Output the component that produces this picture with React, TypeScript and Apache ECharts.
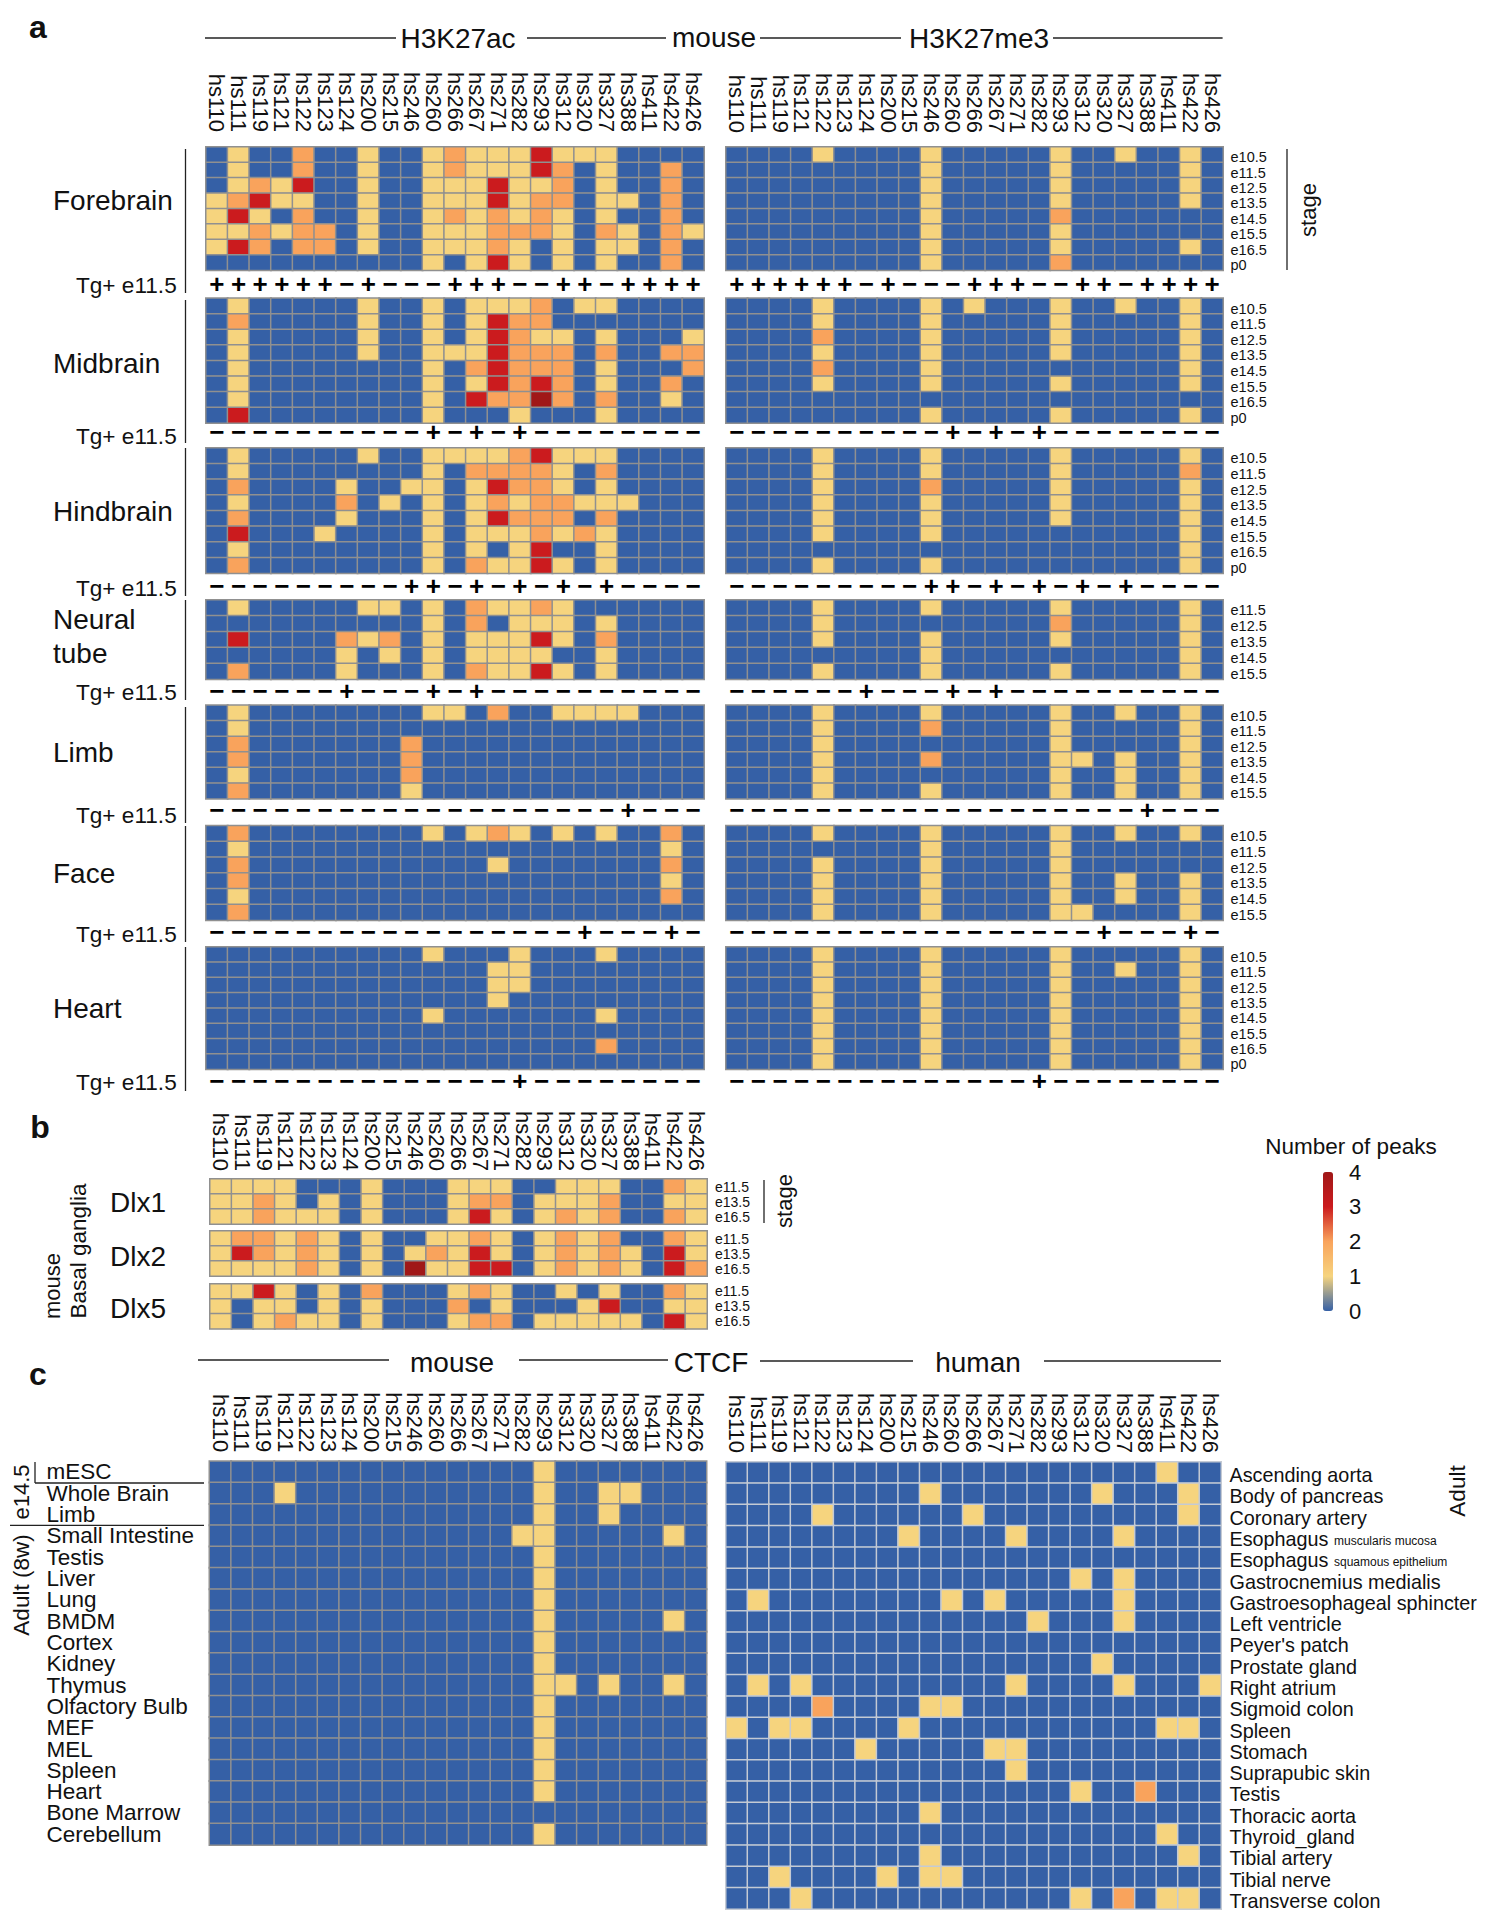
import React, { useEffect, useRef } from "react";
import * as echarts from "echarts";

const hsLabels = ["hs110","hs111","hs119","hs121","hs122","hs123","hs124","hs200","hs215","hs246","hs260","hs266","hs267","hs271","hs282","hs293","hs312","hs320","hs327","hs388","hs411","hs422","hs426"];
const stages8 = ["e10.5","e11.5","e12.5","e13.5","e14.5","e15.5","e16.5","p0"];
const stages6 = ["e10.5","e11.5","e12.5","e13.5","e14.5","e15.5"];
const stages5 = ["e11.5","e12.5","e13.5","e14.5","e15.5"];
const stagesBG = ["e11.5","e13.5","e16.5"];

const forebrainAc = ["0100200100 1211131110 000","0100200100 1211132010 020","0121300100 1113112010 020","1231100100 1113122011 020","1310200100 1212121010 020","1121220100 1112221021 021","1320220100 1112101011 020","0000000000 1013101010 020"];
const midbrainAc = ["0100000100 1011120110 000","0200000100 1013220000 000","0100000100 1013211010 001","0100000100 1113222020 022","0100000000 1023222010 002","0100000000 1013232010 020","0100000000 1032242020 010","0300000000 1000100010 000"];
const hindbrainAc = ["0100000100 1111231110 000","0100000000 1022221020 000","0200001001 1013221010 000","0100002010 1012122111 000","0200001000 1013222020 000","0300010000 1011121210 000","0100000000 1010130010 000","0200000000 1021131010 000"];
const neuralAc = ["0100000110 1021121000 000","0000000000 1020111010 000","0300002120 1011131020 000","0000001010 1011110010 000","0200001000 1021131010 000"];
const limbAc = ["0100000000 1102001111 000","0100000000 0000000000 000","0200000002 0000000000 000","0200000002 0000000000 000","0100000002 0000000000 000","0200000001 0000000000 000"];
const faceAc = ["0200000000 1012101010 020","0100000000 0000000000 010","0200000000 0001000000 020","0200000000 0000000000 010","0100000000 0000000000 020","0200000000 0000000000 000"];
const heartAc = ["0000000000 1000100010 000","0000000000 0001100000 000","0000000000 0001100000 000","0000000000 0001000000 000","0000000000 1000000010 000","0000000000 0000000000 000","0000000000 0000000020 000","0000000000 0000000000 000"];

const forebrainMe = ["0000100001 0000010010 010","0000000001 0000010000 010","0000000001 0000010000 010","0000000001 0000010000 010","0000000001 0000020000 000","0000000001 0000010000 000","0000000001 0000010000 010","0000000001 0000020000 000"];
const midbrainMe = ["0000100001 0100010010 010","0000100001 0000010000 010","0000200001 0000010000 010","0000100001 0000010000 010","0000200001 0000000000 010","0000100001 0000010000 010","0000000000 0000000000 000","0000000001 0000010000 010"];
const hindbrainMe = ["0000100001 0000010000 010","0000100001 0000010000 020","0000100002 0000010000 010","0000100001 0000010000 010","0000100001 0000010000 010","0000100001 0000000000 010","0000000000 0000000000 010","0000100001 0000000000 010"];
const neuralMe = ["0000100001 0000010000 010","0000100000 0000020000 010","0000100001 0000010000 010","0000000001 0000000000 010","0000100001 0000010000 010"];
const limbMe = ["0000100001 0000010010 010","0000100002 0000010000 010","0000100000 0000010000 010","0000100002 0000011010 010","0000100000 0000010010 010","0000100001 0000010010 010"];
const faceMe = ["0000100001 0000010010 010","0000000001 0000010000 000","0000100001 0000010000 000","0000100001 0000010010 010","0000100001 0000010010 010","0000100001 0000011000 010"];
const heartMe = ["0000100001 0000010000 010","0000100001 0000010010 010","0000100001 0000010000 010","0000100001 0000010000 010","0000100001 0000010000 010","0000100001 0000010000 010","0000100001 0000010000 010","0000100001 0000010000 010"];

const tgForebrain = "++++++-+---+++--++-++++";
const tgMidbrain = "----------+-+-+--------";
const tgHindbrain = "---------++-+-+-+-+----";
const tgNeural = "------+---+-+----------";
const tgLimb = "-------------------+---";
const tgFace = "-----------------+---+-";
const tgHeart = "--------------+--------";

const dlx1 = ["1111000100 0111001110 021","1121010100 0122011120 011","1121110100 0131012120 021"];
const dlx2 = ["1221210100 1121012120 021","1321210101 2131012121 031","1111210104 1133012121 032"];
const dlx5 = ["1131010200 0121001010 021","1011010100 0201000130 011","1012110100 0122011111 031"];

const mouseTissues = ["mESC","Whole Brain","Limb","Small Intestine","Testis","Liver","Lung","BMDM","Cortex","Kidney","Thymus","Olfactory Bulb","MEF","MEL","Spleen","Heart","Bone Marrow","Cerebellum"];
const ctcfMouse = [
  "0000000000 0000010000 000","0001000000 0000010011 000","0000000000 0000010010 000","0000000000 0000110000 010",
  "0000000000 0000010000 000","0000000000 0000010000 000","0000000000 0000010000 000","0000000000 0000010000 010",
  "0000000000 0000010000 000","0000000000 0000010000 000","0000000000 0000011010 010","0000000000 0000010000 000",
  "0000000000 0000010000 000","0000000000 0000010000 000","0000000000 0000010000 000","0000000000 0000010000 000",
  "0000000000 0000000000 000","0000000000 0000010000 000",
];
const humanTissues = ["Ascending aorta","Body of pancreas","Coronary artery","Esophagus muscularis mucosa","Esophagus squamous epithelium","Gastrocnemius medialis","Gastroesophageal sphincter","Left ventricle","Peyer's patch","Prostate gland","Right atrium","Sigmoid colon","Spleen","Stomach","Suprapubic skin","Testis","Thoracic aorta","Thyroid_gland","Tibial artery","Tibial nerve","Transverse colon"];
const ctcfHuman = [
  "0000000000 0000000000 100","0000000001 0000000100 010","0000100000 0100000000 010","0000000010 0001000010 000",
  "0000000000 0000000000 000","0000000000 0000001010 000","0100000000 1010000010 000","0000000000 0000100010 000",
  "0000000000 0000000000 000","0000000000 0000000100 000","0101000000 0001000010 001","0000200001 1000000000 000",
  "1011000010 0000000000 110","0000001000 0011000000 000","0000000000 0001000000 000","0000000000 0000001002 000",
  "0000000001 0000000000 000","0000000000 0000000000 100","0000000001 0000000000 010","0010000101 1000000000 000",
  "0001000000 0000001020 110",
];
const legendColors = ["#3560a6", "#f6d47e", "#f9a35c", "#cb1b1e", "#a01818"];
const legendTicks = [0, 1, 2, 3, 4];

const FONT = "Liberation Sans";
const INK = "#111";

const parseRows = (rows: string[]) => rows.map((r) => r.replace(/ /g, "").split("").map(Number));

function buildOption() {
  const grid: any[] = [], xAxis: any[] = [], yAxis: any[] = [], series: any[] = [], heatIdx: number[] = [];
  const addHeat = (o: any) => {
    const i = grid.length;
    grid.push({ left: o.left, top: o.top, width: o.width, height: o.height, containLabel: false });
    xAxis.push({
      type: "category", gridIndex: i, data: hsLabels, position: "top",
      axisLine: { show: false }, axisTick: { show: false }, splitLine: { show: false },
      axisLabel: o.xMargin != null
        ? { show: true, interval: 0, rotate: 90, margin: o.xMargin, fontSize: 22, fontFamily: FONT, color: INK }
        : { show: false },
    });
    yAxis.push({
      type: "category", gridIndex: i, data: o.rows, inverse: true, position: o.yPos || "right",
      axisLine: { show: false }, axisTick: { show: false }, splitLine: { show: false },
      axisLabel: o.yLabel || { show: false },
    });
    heatIdx.push(series.length);
    const data: number[][] = [];
    parseRows(o.values).forEach((row, y) => row.forEach((v, x) => data.push([x, y, v])));
    series.push({
      type: "heatmap", xAxisIndex: i, yAxisIndex: i, data, silent: true,
      itemStyle: { borderColor: o.border || "#909090", borderWidth: 1.5 },
    });
  };
  const addTg = (left: number, width: number, cy: number, marks: string) => {
    const i = grid.length;
    grid.push({ left, top: cy - 8, width, height: 16 });
    xAxis.push({ type: "category", gridIndex: i, data: hsLabels, show: false });
    yAxis.push({ type: "category", gridIndex: i, data: ["Tg+ e11.5"], show: false });
    series.push({
      type: "scatter", xAxisIndex: i, yAxisIndex: i, silent: true, symbolSize: 1,
      itemStyle: { color: "rgba(0,0,0,0)" },
      data: marks.split("").map((m, x) => ({ value: [x, 0], mark: m === "+" ? "+" : "\u2212" })),
      label: {
        show: true, position: "inside", opacity: 1, color: "#000", fontFamily: FONT, fontWeight: "bold", fontSize: 26,
        formatter: (p: any) => p.data.mark,
      },
    });
  };
  const stageLabel = {
    show: true, interval: 0, margin: 7.5, fontSize: 14.5, fontFamily: FONT, color: INK, padding: [5, 0, 0, 0],
    formatter: (v: string) => `{a|${v}}`,
    rich: { a: { fontSize: 14.5, fontFamily: FONT, color: INK } },
  };

  const aRows = [
    { top: 147, h: 123.3, ac: forebrainAc, me: forebrainMe, st: stages8, tg: tgForebrain, tgY: 284 },
    { top: 298.3, h: 124.7, ac: midbrainAc, me: midbrainMe, st: stages8, tg: tgMidbrain, tgY: 432 },
    { top: 448, h: 125.3, ac: hindbrainAc, me: hindbrainMe, st: stages8, tg: tgHindbrain, tgY: 586 },
    { top: 600, h: 79.3, ac: neuralAc, me: neuralMe, st: stages5, tg: tgNeural, tgY: 691 },
    { top: 705.3, h: 93.4, ac: limbAc, me: limbMe, st: stages6, tg: tgLimb, tgY: 810 },
    { top: 825.7, h: 94.6, ac: faceAc, me: faceMe, st: stages6, tg: tgFace, tgY: 932 },
    { top: 947, h: 122.3, ac: heartAc, me: heartMe, st: stages8, tg: tgHeart, tgY: 1081 },
  ];
  aRows.forEach((r, k) => {
    addHeat({ left: 206, width: 498, top: r.top, height: r.h, rows: r.st, values: r.ac, xMargin: k === 0 ? 15 : undefined });
    addHeat({ left: 726, width: 497, top: r.top, height: r.h, rows: r.st, values: r.me, xMargin: k === 0 ? 14 : undefined, yLabel: stageLabel });
    addTg(206, 498, r.tgY, r.tg);
    addTg(726, 497, r.tgY, r.tg);
  });

  const bLabel = { show: true, interval: 0, margin: 8, fontSize: 14, fontFamily: FONT, color: INK };
  addHeat({ left: 210, width: 497, top: 1179, height: 45, rows: stagesBG, values: dlx1, xMargin: 8, yLabel: bLabel });
  addHeat({ left: 210, width: 497, top: 1231, height: 45, rows: stagesBG, values: dlx2, yLabel: bLabel });
  addHeat({ left: 210, width: 497, top: 1284, height: 44.7, rows: stagesBG, values: dlx5, yLabel: bLabel });

  addHeat({
    left: 209.5, width: 497, top: 1461.3, height: 383.6, rows: mouseTissues, values: ctcfMouse, xMargin: 9, yPos: "left",
    yLabel: { show: true, interval: 0, margin: 163, align: "left", fontSize: 22.5, fontFamily: FONT, color: INK },
  });
  addHeat({
    left: 726, width: 495, top: 1462, height: 447, rows: humanTissues, values: ctcfHuman, xMargin: 9, yPos: "right", border: "#c4cad4",
    yLabel: {
      show: true, interval: 0, margin: 8.5, align: "left", fontSize: 19.8, fontFamily: FONT, color: INK, padding: [5, 0, 0, 0],
      formatter: (v: string) => v.startsWith("Esophagus ") ? `{m|Esophagus} {s|${v.slice(10)}}` : v,
      rich: {
        m: { fontSize: 19.8, fontFamily: FONT, color: INK, verticalAlign: "bottom" },
        s: { fontSize: 12, fontFamily: FONT, color: INK, verticalAlign: "bottom", padding: [0, 0, 2, 0] },
      },
    },
  });

  // colour-scale axis
  const li = grid.length;
  grid.push({ left: 1333, top: 1172, width: 1, height: 139 });
  xAxis.push({ type: "value", gridIndex: li, show: false });
  yAxis.push({
    type: "value", gridIndex: li, min: legendTicks[0], max: legendTicks[4], interval: 1, position: "right",
    axisLine: { show: false }, axisTick: { show: false }, splitLine: { show: false },
    axisLabel: { margin: 15, fontSize: 22, fontFamily: FONT, color: INK },
  });

  const text = (x: number, y: number, t: string, fontSize = 28, extra: any = {}, rotation = 0) => ({
    type: "text", x, y, rotation, silent: true,
    style: {
      text: t, fontSize, fontFamily: FONT, fill: INK, fontWeight: extra.fontWeight || "normal",
      align: extra.align || "center", verticalAlign: "middle",
      textAlign: extra.align || "center", textVerticalAlign: "middle",
    },
  });
  const line = (x1: number, y1: number, x2: number, y2: number) => ({
    type: "line", silent: true, shape: { x1, y1, x2, y2 }, style: { stroke: "#222", lineWidth: 1.3 },
  });
  const R = Math.PI / 2;
  const L = { align: "left" };
  const graphic: any[] = [
    text(38, 27, "a", 32, { fontWeight: "bold" }),
    text(40, 1127, "b", 32, { fontWeight: "bold" }),
    text(38, 1374, "c", 32, { fontWeight: "bold" }),
    line(205, 38, 396, 38), text(458, 38, "H3K27ac"), line(527, 38, 666, 38),
    text(714, 37, "mouse"), line(760, 38, 901, 38), text(979, 38, "H3K27me3"), line(1053, 38, 1222.6, 38),
    text(53, 200, "Forebrain", 28, L), text(53, 363, "Midbrain", 28, L), text(53, 511, "Hindbrain", 28, L),
    text(53, 619, "Neural", 28, L), text(53, 653, "tube", 28, L), text(53, 752, "Limb", 28, L),
    text(53, 873, "Face", 28, L), text(53, 1008, "Heart", 28, L),
    ...[285, 436, 588, 692, 815, 934, 1082].map((y) => text(76, y, "Tg+ e11.5", 22.6, L)),
    line(185.5, 149, 185.5, 293), line(185.5, 300, 185.5, 443), line(185.5, 448, 185.5, 596),
    line(185.5, 600, 185.5, 700), line(185.5, 707, 185.5, 823), line(185.5, 826, 185.5, 942), line(185.5, 947, 185.5, 1091),
    line(1287, 149, 1287, 270), text(1308, 210, "stage", 22, {}, R),
    text(110, 1202, "Dlx1", 28, L), text(110, 1256, "Dlx2", 28, L), text(110, 1308, "Dlx5", 28, L),
    text(52, 1286, "mouse", 22, {}, R), text(78, 1251, "Basal ganglia", 22.5, {}, R),
    line(764, 1180, 764, 1223), text(784, 1201, "stage", 22, {}, R),
    text(1351, 1146, "Number of peaks", 22.5),
    line(198, 1360, 389, 1360), text(452, 1362, "mouse"), line(519, 1360, 668, 1360),
    text(711, 1362, "CTCF"), line(760, 1361, 913, 1361), text(978, 1362, "human"), line(1044, 1361, 1221, 1361),
    text(1457, 1491, "Adult", 22.5, {}, R),
    text(21, 1492, "e14.5", 22, {}, R), text(21, 1585, "Adult (8w)", 22.5, {}, R),
    line(35, 1462, 35, 1483), line(35, 1483, 204, 1483), line(10, 1525.3, 204, 1525.3),
  ];

  return {
    animation: false,
    backgroundColor: "#fff",
    textStyle: { fontFamily: FONT },
    grid, xAxis, yAxis, series, graphic,
    visualMap: {
      type: "continuous", min: legendTicks[0], max: legendTicks[4], dimension: 2, seriesIndex: heatIdx,
      calculable: false, orient: "vertical", left: 1323, top: 1172, itemWidth: 10, itemHeight: 139, padding: 0,
      borderRadius: 0, text: ["", ""], inRange: { color: legendColors },
    },
  };
}

export default function App() {
  const ref = useRef<HTMLDivElement>(null);
  useEffect(() => {
    const chart = echarts.init(ref.current!, undefined, { renderer: "svg" });
    chart.setOption(buildOption() as any);
    return () => chart.dispose();
  }, []);
  return <div ref={ref} style={{ position: "absolute", left: 0, top: 0, width: 1488, height: 1920 }} />;
}
